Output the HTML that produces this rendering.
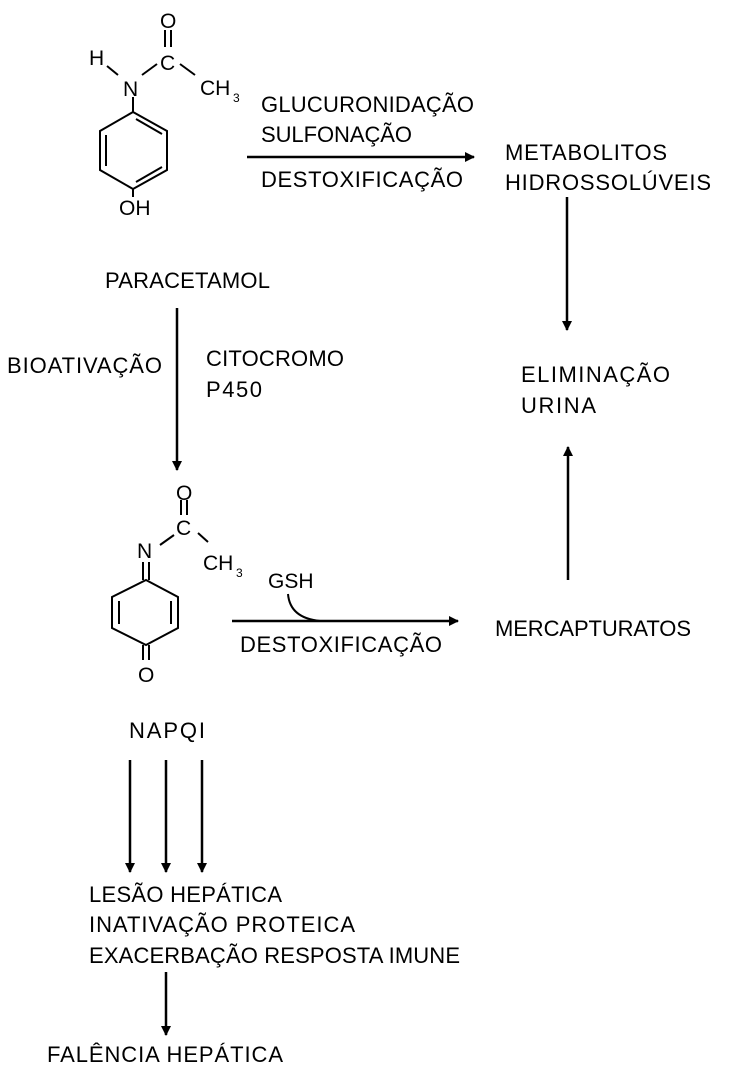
<!DOCTYPE html>
<html><head><meta charset="utf-8"><style>
html,body{margin:0;padding:0;background:#fff;}
svg{display:block;}
text{font-family:"Liberation Sans",sans-serif;font-size:22px;fill:#000;}
.c{font-size:21px;}
.s{font-size:12px;}
</style></head><body>
<svg width="730" height="1075" viewBox="0 0 730 1075" xmlns="http://www.w3.org/2000/svg">
<defs><marker id="a" markerWidth="10" markerHeight="10" refX="9" refY="5" orient="auto" markerUnits="userSpaceOnUse"><path d="M0,0 L10,5 L0,10 z" fill="#000"/></marker></defs>
<g stroke="#000" stroke-width="2" fill="none">
<line x1="107" y1="66" x2="118" y2="75"/>
<line x1="142" y1="75" x2="157" y2="64"/>
<line x1="180" y1="64" x2="195" y2="75"/>
<line x1="165" y1="30" x2="165" y2="47"/><line x1="171" y1="30" x2="171" y2="47"/>
<line x1="133" y1="97" x2="133" y2="112"/>
<path d="M133,112 L167,131 L167,170 L133,189 L100,170 L100,131 Z"/>
<line x1="106" y1="135" x2="106" y2="166"/>
<line x1="136" y1="119" x2="162" y2="134"/>
<line x1="136" y1="182" x2="162" y2="167"/>
<line x1="133" y1="189" x2="133" y2="197"/>
<line x1="160" y1="545" x2="174" y2="535"/>
<line x1="198" y1="533" x2="208" y2="542"/>
<line x1="181" y1="500" x2="181" y2="515"/><line x1="187" y1="500" x2="187" y2="515"/>
<line x1="143" y1="562" x2="143" y2="580"/><line x1="149" y1="562" x2="149" y2="580"/>
<path d="M146,580 L178,597 L178,628 L146,645 L112,628 L112,597 Z"/>
<line x1="119" y1="601" x2="119" y2="624"/>
<line x1="171" y1="601" x2="171" y2="624"/>
<line x1="143" y1="645" x2="143" y2="660"/><line x1="149" y1="645" x2="149" y2="660"/>
<path d="M288,594 Q290,618 320,621"/>
</g>
<g stroke="#000" stroke-width="2.5" marker-end="url(#a)">
<line x1="247" y1="157" x2="474" y2="157"/>
<line x1="567" y1="197" x2="567" y2="330"/>
<line x1="568" y1="580" x2="568" y2="447"/>
<line x1="177" y1="308" x2="177" y2="470"/>
<line x1="232" y1="621" x2="458" y2="621"/>
<line x1="130" y1="760" x2="130" y2="872"/>
<line x1="166" y1="760" x2="166" y2="872"/>
<line x1="202" y1="760" x2="202" y2="872"/>
<line x1="166" y1="972" x2="166" y2="1035"/>
</g>
<text class="c" x="89" y="65">H</text>
<text class="c" x="123" y="96">N</text>
<text class="c" x="160" y="70">C</text>
<text class="c" x="160" y="28">O</text>
<text class="c" x="200" y="95">CH</text><text class="s" x="233" y="102">3</text>
<text class="c" x="119" y="215">OH</text>
<text class="c" x="176" y="500">O</text>
<text class="c" x="176" y="535">C</text>
<text class="c" x="137" y="558">N</text>
<text class="c" x="203" y="570">CH</text><text class="s" x="236" y="577">3</text>
<text class="c" x="138" y="682">O</text>
<text class="c" x="268" y="588">GSH</text>
<text x="261" y="112" textLength="213">GLUCURONIDAÇÃO</text>
<text x="261" y="142" textLength="151">SULFONAÇÃO</text>
<text x="261" y="187" textLength="202">DESTOXIFICAÇÃO</text>
<text x="505" y="160" textLength="162">METABOLITOS</text>
<text x="505" y="190" textLength="206">HIDROSSOLÚVEIS</text>
<text x="521" y="382" textLength="149">ELIMINAÇÃO</text>
<text x="521" y="413" textLength="75">URINA</text>
<text x="105" y="288" textLength="165">PARACETAMOL</text>
<text x="7" y="373" textLength="155">BIOATIVAÇÃO</text>
<text x="206" y="366" textLength="138">CITOCROMO</text>
<text x="206" y="397" textLength="56">P450</text>
<text x="240" y="652" textLength="202">DESTOXIFICAÇÃO</text>
<text x="495" y="636" textLength="196">MERCAPTURATOS</text>
<text x="129" y="738" textLength="76">NAPQI</text>
<text x="89" y="902" textLength="193">LESÃO HEPÁTICA</text>
<text x="89" y="932" textLength="266">INATIVAÇÃO PROTEICA</text>
<text x="89" y="963" textLength="371">EXACERBAÇÃO RESPOSTA IMUNE</text>
<text x="47" y="1062" textLength="236">FALÊNCIA HEPÁTICA</text>
</svg>
</body></html>
